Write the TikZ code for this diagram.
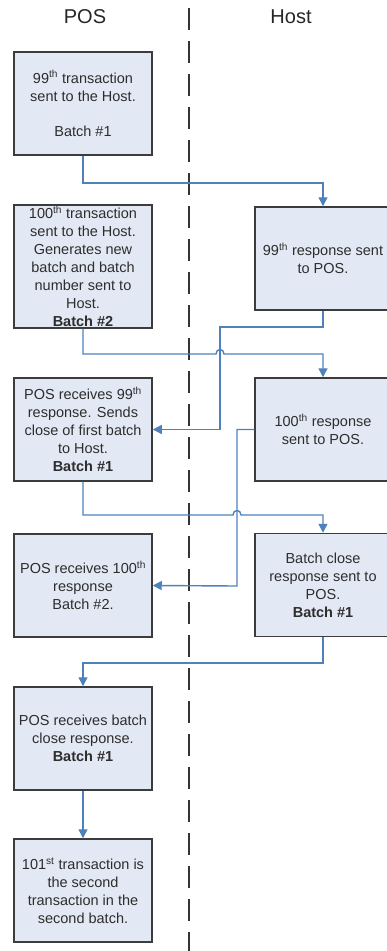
\documentclass[tikz,border=0pt]{standalone}
\usepackage{fontspec}
\setmainfont{Liberation Sans}
\usetikzlibrary{arrows.meta}
\definecolor{linkblue}{RGB}{79,129,189}
\definecolor{boxfill}{RGB}{227,233,244}
\definecolor{boxline}{RGB}{60,60,60}
\definecolor{inktext}{RGB}{45,45,45}
\begin{document}
\begin{tikzpicture}[x=1pt,y=-1pt,
  procbox/.style={draw=boxline,line width=1.5pt,fill=boxfill,text=inktext,align=center,
    minimum width=138pt,minimum height=103pt,inner sep=1pt,
    font=\fontsize{14.5}{18}\selectfont},
  hostbox/.style={procbox,minimum width=136pt},
  flow/.style={draw=linkblue,line width=1.4pt,-{Triangle[length=9pt,width=9pt]}},
  lane/.style={font=\fontsize{20}{22}\selectfont,text=black!85}]
\useasboundingbox (0,0) rectangle (386,951);
% swim lane divider
\draw[black!80,line width=1.3pt,dash pattern=on 22pt off 11pt] (189,8) -- (189,951);
\node[lane] (poshead) at (85,17) {POS};
\node[lane] (hosthead) at (291,17) {Host};
% POS side
\node[procbox] (pos1) at (83,103.5) {99\textsuperscript{th} transaction\\sent to the Host.\\[17pt]Batch \#1};
\node[procbox,minimum height=121pt] (pos2) at (83,266.5) {100\textsuperscript{th} transaction\\sent to the Host.\\Generates new\\batch and batch\\number sent to\\Host.\\\textbf{Batch \#2}};
\node[procbox] (pos3) at (83,429.5) {POS receives 99\textsuperscript{th}\\response. Sends\\close of first batch\\to Host.\\\textbf{Batch \#1}};
\node[procbox] (pos4) at (83,585.5) {POS receives 100\textsuperscript{th}\\response\\Batch \#2.};
\node[procbox] (pos5) at (83,738.5) {POS receives batch\\close response.\\\textbf{Batch \#1}};
\node[procbox] (pos6) at (83,890.5) {101\textsuperscript{st} transaction is\\the second\\transaction in the\\second batch.};
% Host side
\node[hostbox] (host1) at (323,258.5) {99\textsuperscript{th} response sent\\to POS.};
\node[hostbox] (host2) at (323,429.5) {100\textsuperscript{th} response\\sent to POS.};
\node[hostbox] (host3) at (323,585) {Batch close\\response sent to\\POS.\\\textbf{Batch \#1}};
% messages
\draw[flow] (pos1.south) -- (83,183) -| (host1.north);
\draw[flow] (host1.south) |- (220,327) |- (pos3.east);
\draw[flow] (pos2.south) -- (83,354) -- (216,354) .. controls (216,348) and (224,348) .. (224,354) -| (host2.north);
\draw[flow] (host2.west) -| (237,586) -- (pos4.east);
\draw[flow] (pos3.south) -- (83,515) -- (233,515) .. controls (233,509) and (241,509) .. (241,515) -| (host3.north);
\draw[flow] (host3.south) |- (83,663) -- (pos5.north);
\draw[flow] (pos5.south) -- (pos6.north);
\end{tikzpicture}
\end{document}
